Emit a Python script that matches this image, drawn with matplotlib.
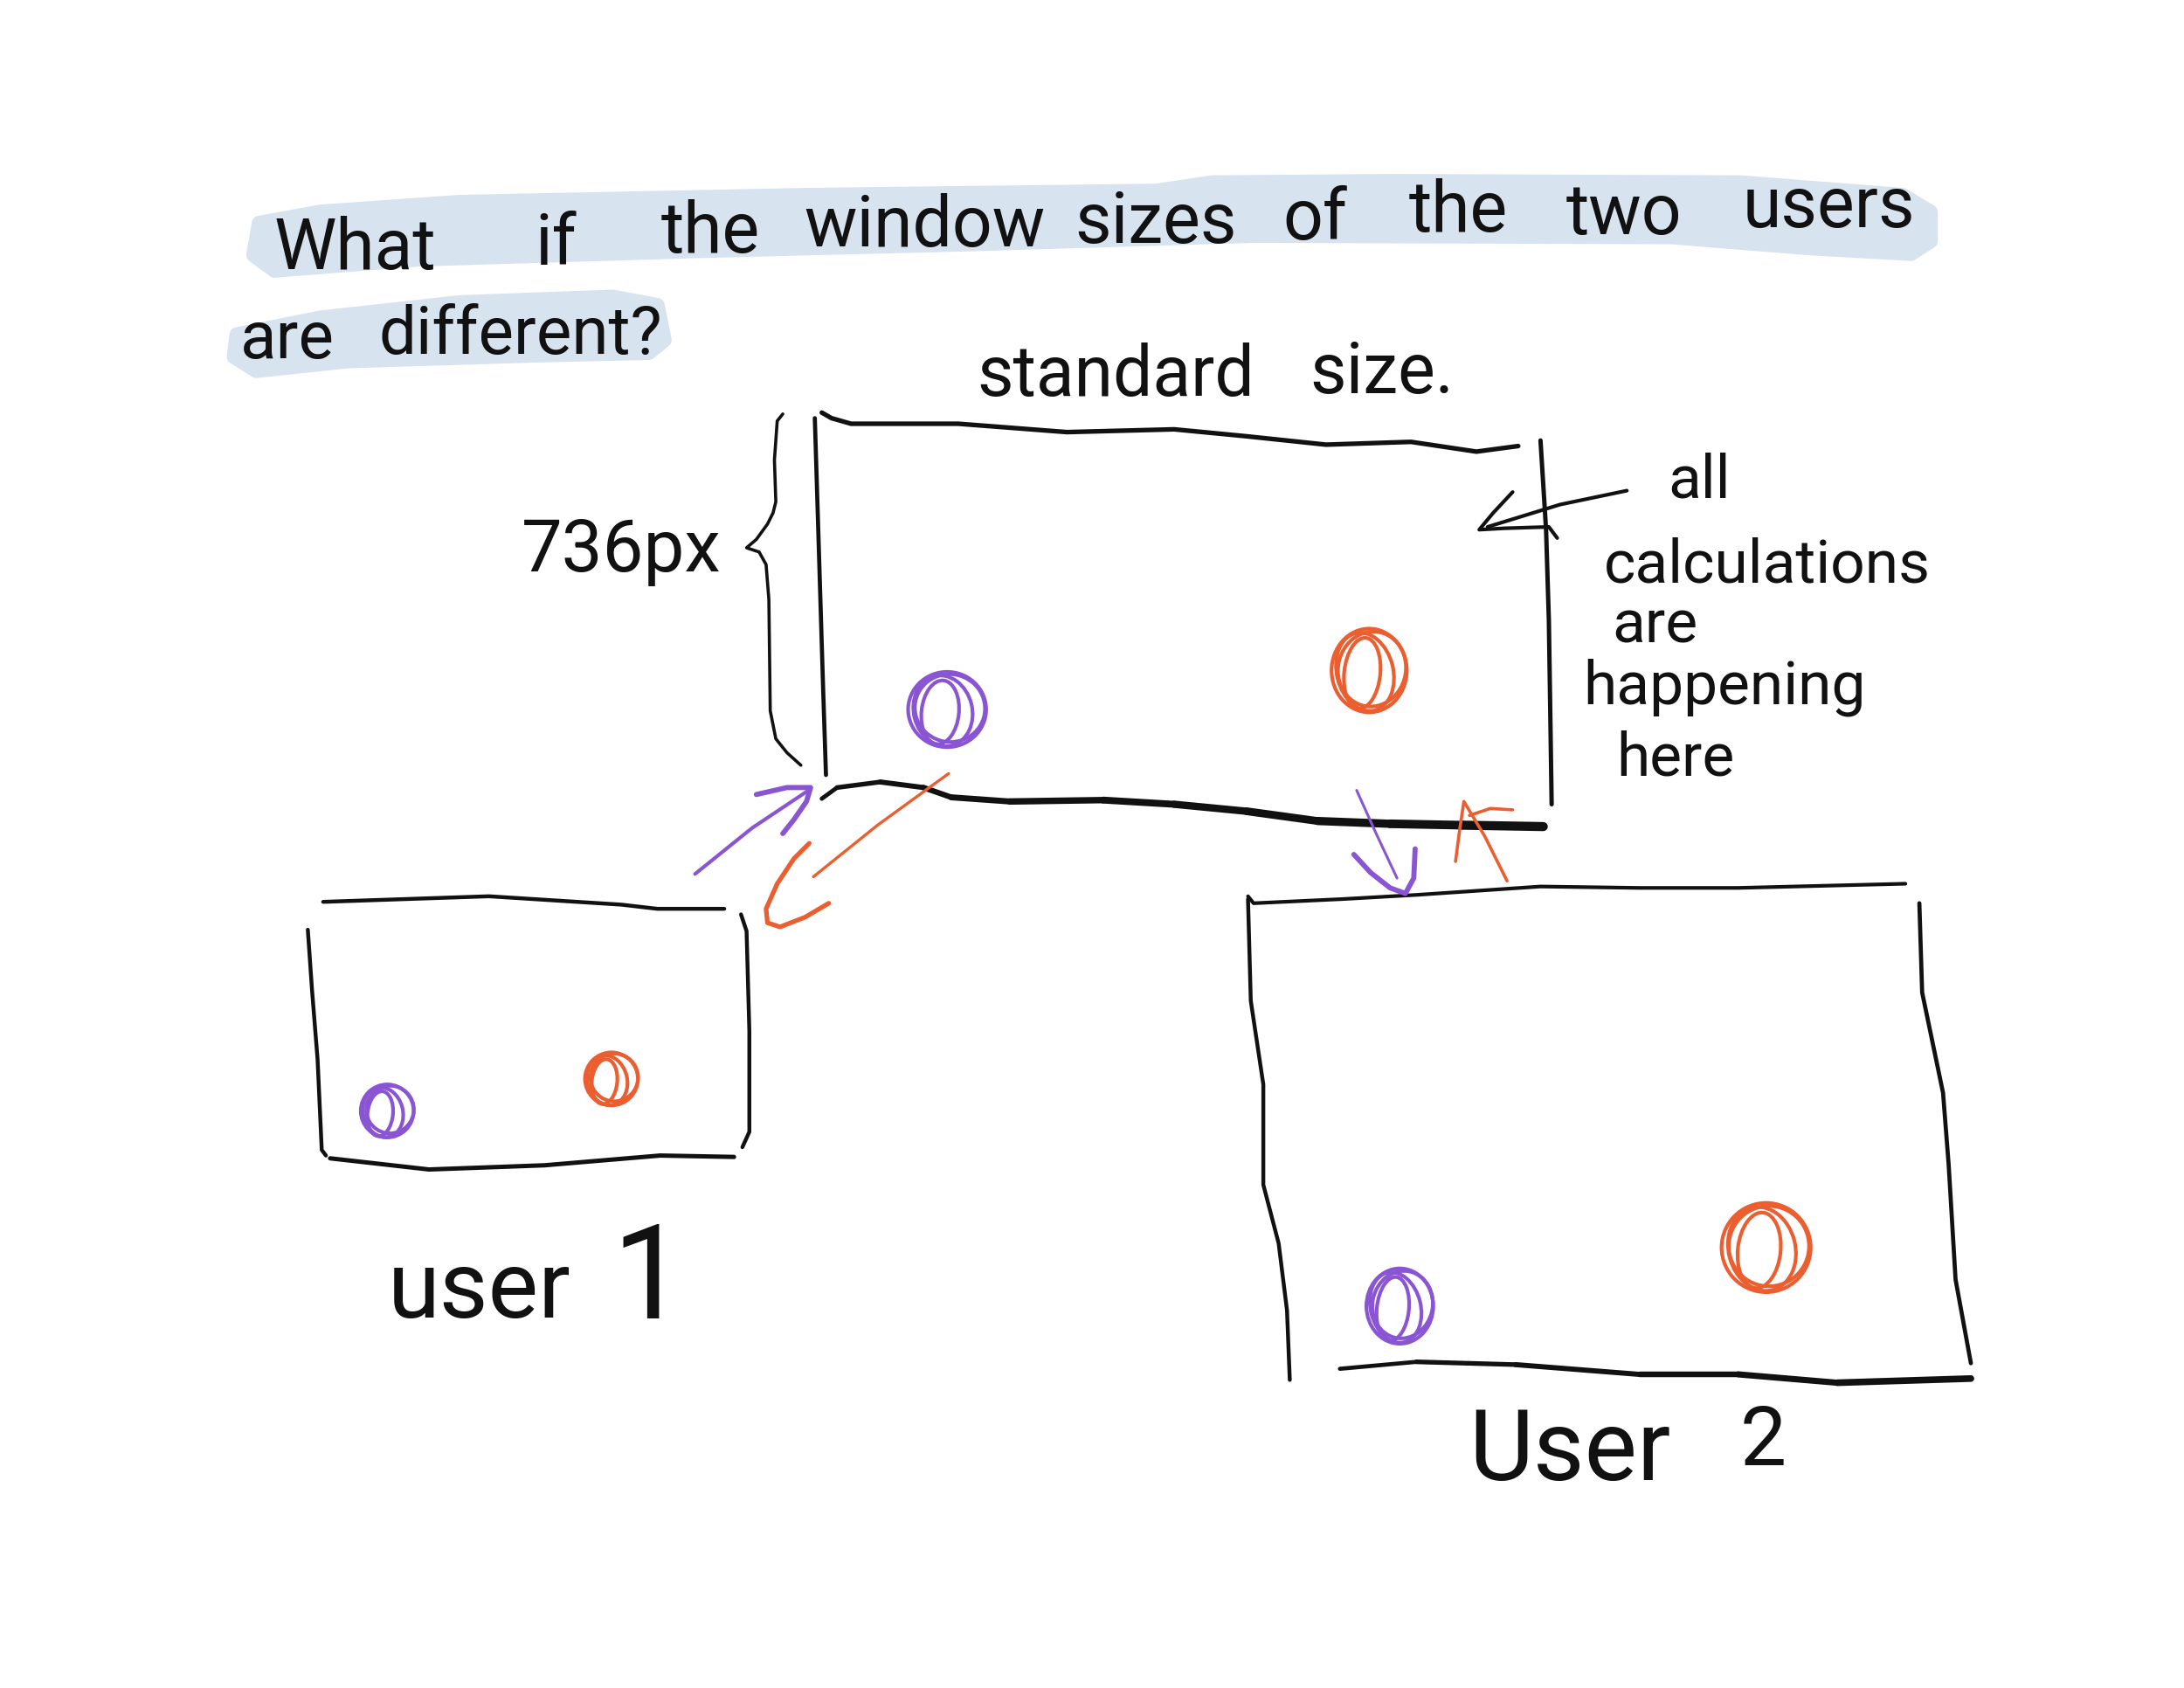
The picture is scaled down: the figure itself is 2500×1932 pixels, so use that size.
import numpy as np
import matplotlib
matplotlib.use("Agg")
import matplotlib.pyplot as plt
from matplotlib.patches import Polygon, Ellipse
from matplotlib.collections import LineCollection

# ===================== data (sketch units, 1568 x 1211 canvas) =====================
W, H = 1568, 1211

title_words = ["What", "if", "the", "window", "sizes", "of", "the", "two", "users"]
title_cx = [255, 399, 510, 664, 830, 944, 1047, 1166, 1313]   # word centres
title_y = [193, 190, 181, 177, 174, 172, 166, 168, 163]       # baselines

line2_words = ["are", "different?"]
line2_cx = [206, 374]
line2_y = [257, 254]

band1_x = [186, 230, 330, 580, 830, 870, 1000, 1250, 1366, 1386, 1386, 1372, 1300, 1200, 900, 700, 500, 300, 197, 182]
band1_y = [160, 152, 145, 140, 137, 131, 130, 131, 140, 152, 173, 182, 178, 170, 169, 175, 180, 186, 194, 183]
band2_x = [170, 230, 330, 440, 472, 477, 466, 380, 250, 184, 168]
band2_y = [240, 228, 217, 213, 219, 244, 253, 255, 259, 266, 256]

# standard window
std_top_x = [590, 597, 611, 688, 766, 843, 895, 952, 1013, 1060, 1090]
std_top_y = [296, 300, 304, 304, 310, 308, 313, 319, 317, 324, 320]
std_left_x = [585, 587, 589, 591, 593]
std_left_y = [300, 365, 430, 495, 556]
std_right_x = [1106, 1110, 1112, 1113, 1114]
std_right_y = [316, 380, 445, 510, 577]
std_bot_x = [590, 601, 632, 663, 683, 725, 792, 843, 895, 946, 998, 1050, 1108]
std_bot_y = [573, 565, 561, 565, 572, 575, 574, 577, 582, 589, 591, 592, 593]

brace_x = [562, 558, 556, 557, 555, 551, 543, 536, 545, 550, 552, 553, 557, 565, 575]
brace_y = [297, 302, 330, 360, 368, 376, 387, 393, 396, 405, 430, 510, 530, 540, 549]

# user 1 window
u1_top_x = [232, 351, 446, 472, 520]
u1_top_y = [647, 643, 649, 652, 652]
u1_left_x = [221, 224, 228, 231, 234]
u1_left_y = [667, 710, 760, 825, 829]
u1_right_x = [532, 536, 538, 538, 533]
u1_right_y = [656, 668, 740, 812, 823]
u1_bot_x = [237, 308, 391, 474, 527]
u1_bot_y = [831, 839, 836, 829, 830]

# user 2 window
u2_top_x = [896, 900, 964, 1017, 1106, 1177, 1248, 1368]
u2_top_y = [643, 648, 645, 642, 636, 637, 637, 634]
u2_left_x = [896, 898, 907, 907, 918, 924, 926]
u2_left_y = [645, 718, 778, 850, 892, 940, 990]
u2_right_x = [1378, 1380, 1395, 1399, 1404, 1415]
u2_right_y = [648, 712, 784, 835, 918, 978]
u2_bot_x = [962, 1017, 1088, 1177, 1248, 1319, 1415]
u2_bot_y = [982, 977, 979, 986, 986, 992, 989]

# coloured dots (centre x, centre y, radius x, radius y)
purple_dots = [(680, 509, 28, 27), (278, 797, 19, 19), (1005, 937, 24, 27)]
orange_dots = [(983, 481, 27, 30), (439, 774, 19, 19), (1268, 895, 32, 32)]

# arrows between windows
pa1_x = [499, 540, 582]; pa1_y = [627, 594, 566]
pa1_head_x = [543, 565, 582, 579, 570, 562]; pa1_head_y = [570, 565, 565, 575, 588, 598]
oa1_x = [681, 630, 584]; oa1_y = [555, 592, 629]
oa1_head_x = [581, 570, 558, 550, 551, 560, 578, 595]; oa1_head_y = [605, 616, 634, 652, 662, 665, 658, 648]
pa2_x = [974, 988, 1003]; pa2_y = [567, 598, 630]
pa2_head_x = [972, 984, 998, 1009, 1015, 1016]; pa2_head_y = [613, 626, 637, 641, 630, 609]
oa2_x = [1045, 1048, 1051, 1066, 1082]; oa2_y = [618, 595, 575, 600, 632]
oa2_barb_x = [1055, 1070, 1086]; oa2_barb_y = [585, 580, 581]

# note arrow
note_x = [1168, 1120, 1068]; note_y = [352, 362, 378]
note_head_x = [1086, 1072, 1062, 1080, 1112, 1118]; note_head_y = [353, 368, 380, 379, 378, 386]

note_lines = ["all", "calculations", "are", "happening", "here"]
note_cx = [1220, 1269, 1188, 1238, 1203]
note_y0 = [357, 418, 461, 505, 556]

PURPLE = "#8a55d3"
ORANGE = "#ea5e2f"
BAND = "#d8e3f0"
INK = "#111111"

plt.rcParams['font.family'] = ['Roboto', 'Lato', 'DejaVu Sans']

fig = plt.figure(figsize=(25, 19.32), dpi=100)
ax = fig.add_axes([0, 0, 1, 1])
ax.set_xlim(0, W)
ax.set_ylim(H, 0)
ax.axis("off")


def stroke(xs, ys, color=INK, lw=3.5, z=3):
    ax.plot(xs, ys, color=color, lw=lw, solid_capstyle="round",
            solid_joinstyle="round", zorder=z)


def tapered(xs, ys, lw0, lw1, color=INK):
    pts = np.column_stack([xs, ys])
    segs = np.stack([pts[:-1], pts[1:]], axis=1)
    widths = np.linspace(lw0, lw1, len(segs))
    lc = LineCollection(segs, linewidths=widths, colors=color, capstyle="round",
                        joinstyle="round", zorder=3)
    ax.add_collection(lc)


def scribble(cx, cy, rx, ry, color):
    # a few overlapping loops, like a pen circling a dot
    loops = [(0, 0, 1.0, 1.0, 0), (-3, 1, 0.75, 0.95, -14), (2, -1, 0.9, 0.9, 12), (-5, 2, 0.48, 0.85, 6)]
    for dx, dy, sx, sy, ang in loops:
        e = Ellipse((cx + dx, cy + dy), 2 * rx * sx, 2 * ry * sy, angle=ang,
                    fill=False, edgecolor=color, lw=3.0, zorder=4)
        ax.add_patch(e)


# highlight bands behind the question (wide round edge gives the brush look)
ax.add_patch(Polygon(np.column_stack([band1_x, band1_y]), closed=True, fc=BAND, ec=BAND,
                     lw=12, joinstyle="round", zorder=1))
ax.add_patch(Polygon(np.column_stack([band2_x, band2_y]), closed=True, fc=BAND, ec=BAND,
                     lw=12, joinstyle="round", zorder=1))

txt_kw = dict(color=INK, va="baseline", ha="center", fontweight="normal", zorder=5)
for w, x, y in zip(title_words, title_cx, title_y):
    ax.text(x, y, w, fontsize=58, **txt_kw)
for w, x, y in zip(line2_words, line2_cx, line2_y):
    ax.text(x, y, w, fontsize=55, **txt_kw)

ax.text(801, 284, "standard", fontsize=58, **txt_kw)
ax.text(992, 282, "size.", fontsize=58, **txt_kw)
ax.text(446, 410, "736px", fontsize=60, **txt_kw)

# standard window
stroke(std_top_x, std_top_y, lw=3.8)
stroke(std_left_x, std_left_y, lw=3.4)
stroke(std_right_x, std_right_y, lw=3.6)
tapered(std_bot_x, std_bot_y, 3.5, 7.5)
stroke(brace_x, brace_y, lw=2.6)

# note arrow + text
stroke(note_x, note_y, lw=3.0)
stroke(note_head_x, note_head_y, lw=3.0)
for t, x, y in zip(note_lines, note_cx, note_y0):
    ax.text(x, y, t, fontsize=50, **txt_kw)

# user windows
stroke(u1_top_x, u1_top_y, lw=3.2)
stroke(u1_left_x, u1_left_y, lw=3.2)
stroke(u1_right_x, u1_right_y, lw=3.2)
stroke(u1_bot_x, u1_bot_y, lw=3.6)

stroke(u2_top_x, u2_top_y, lw=3.0)
stroke(u2_left_x, u2_left_y, lw=3.2)
stroke(u2_right_x, u2_right_y, lw=3.4)
tapered(u2_bot_x, u2_bot_y, 3.4, 5.5)

for cx, cy, rx, ry in purple_dots:
    scribble(cx, cy, rx, ry, PURPLE)
for cx, cy, rx, ry in orange_dots:
    scribble(cx, cy, rx, ry, ORANGE)

# arrows between the windows
stroke(pa1_x, pa1_y, color=PURPLE, lw=3.0)
stroke(pa1_head_x, pa1_head_y, color=PURPLE, lw=4.2)
stroke(oa1_x, oa1_y, color=ORANGE, lw=2.4)
stroke(oa1_head_x, oa1_head_y, color=ORANGE, lw=3.8)
stroke(pa2_x, pa2_y, color=PURPLE, lw=2.2)
stroke(pa2_head_x, pa2_head_y, color=PURPLE, lw=4.2)
stroke(oa2_x, oa2_y, color=ORANGE, lw=2.6)
stroke(oa2_barb_x, oa2_barb_y, color=ORANGE, lw=2.6)

ax.text(344, 945, "user", fontsize=78, **txt_kw)
ax.text(466, 946, "1", fontsize=108, **txt_kw)
ax.text(1127, 1062, "User", fontsize=82, **txt_kw)
ax.text(1266, 1051, "2", fontsize=68, **txt_kw)

fig.savefig("out.png", dpi=100, facecolor="white")
